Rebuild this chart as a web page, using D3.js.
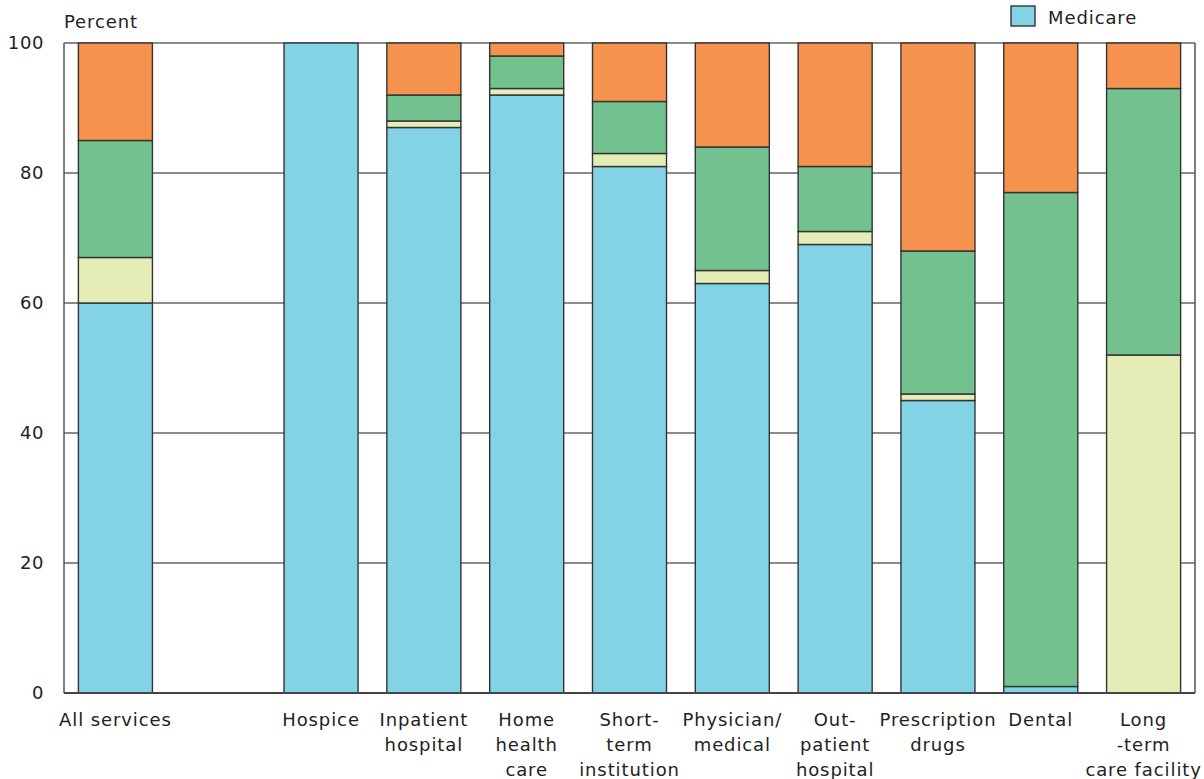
<!DOCTYPE html>
<html>
<head>
<meta charset="utf-8">
<script src="https://cdn.jsdelivr.net/npm/d3@7"></script>
<style>
  html, body { margin: 0; padding: 0; background: #fff; }
  svg text { font-family: "DejaVu Sans", sans-serif; fill: #222; }
</style>
</head>
<body>
<svg id="chart" width="1204" height="779"></svg>
<script>
// Share of spending by payer, per service type (percent)
const categories = ["All services", "", "Hospice", "Inpatient hospital", "Home health care",
  "Short-term institution", "Physician/ medical", "Out-patient hospital",
  "Prescription drugs", "Dental", "Long-term care facility"];
const categoryLines = [["All services"], [], ["Hospice"], ["Inpatient", "hospital"],
  ["Home", "health", "care"], ["Short-", "term", "institution"], ["Physician/", "medical"],
  ["Out-", "patient", "hospital"], ["Prescription", "drugs"], ["Dental"], ["Long", "-term", "care facility"]];
const medicare      = [60, 0, 100, 87, 92, 81, 63, 69, 45, 1, 0];
const medicaid      = [7, 0, 0, 1, 1, 2, 2, 2, 1, 0, 52];
const outOfPocket   = [18, 0, 0, 4, 5, 8, 19, 10, 22, 76, 41];
const privateIns    = [15, 0, 0, 8, 2, 9, 16, 19, 32, 23, 7];
const yTicks = [0, 20, 40, 60, 80, 100];

const seriesKeys = ["Medicare", "Medicaid", "Out of pocket", "Private insurance"];
const seriesColors = ["#83d3e6", "#e5edb7", "#72c18f", "#f5934e"];

const rows = categories.map((c, i) => ({
  category: c, idx: i,
  "Medicare": medicare[i], "Medicaid": medicaid[i],
  "Out of pocket": outOfPocket[i], "Private insurance": privateIns[i]
}));

const svg = d3.select("#chart");
const margin = { left: 64, right: 9, top: 43, bottom: 86 };
const W = 1204, H = 779;

const x = d3.scaleBand()
  .domain(d3.range(categories.length))
  .range([margin.left, W - margin.right])
  .paddingInner(0.28)
  .paddingOuter(0.14);
const y = d3.scaleLinear().domain([0, 100]).range([H - margin.bottom, margin.top]);

// gridlines
svg.append("g").selectAll("line").data(yTicks).join("line")
  .attr("x1", margin.left).attr("x2", W - margin.right)
  .attr("y1", d => y(d)).attr("y2", d => y(d))
  .attr("stroke", "#666").attr("stroke-width", 1.5);

// side frame
svg.append("line").attr("x1", margin.left).attr("x2", margin.left)
  .attr("y1", y(100)).attr("y2", y(0)).attr("stroke", "#555").attr("stroke-width", 1.5);
svg.append("line").attr("x1", W - margin.right).attr("x2", W - margin.right)
  .attr("y1", y(100)).attr("y2", y(0)).attr("stroke", "#555").attr("stroke-width", 1.5);

// stacked bars
const stacked = d3.stack().keys(seriesKeys)(rows);
svg.append("g").selectAll("g").data(stacked).join("g")
  .attr("fill", (d, i) => seriesColors[i])
  .selectAll("rect").data(d => d.filter(s => s[1] - s[0] > 0)).join("rect")
  .attr("x", d => x(d.data.idx))
  .attr("width", x.bandwidth())
  .attr("y", d => y(d[1]))
  .attr("height", d => y(d[0]) - y(d[1]))
  .attr("stroke", "#333").attr("stroke-width", 1.4);

// bottom frame over the bars
svg.append("line").attr("x1", margin.left).attr("x2", W - margin.right)
  .attr("y1", y(0)).attr("y2", y(0)).attr("stroke", "#444").attr("stroke-width", 1.8);

// y axis labels
const yAxis = d3.axisLeft(y).tickValues(yTicks).tickSize(0).tickPadding(20);
const gy = svg.append("g").attr("transform", `translate(${margin.left},0)`).call(yAxis);
gy.select(".domain").remove();
gy.selectAll("text").attr("font-size", 18).attr("letter-spacing", 0.6)
  .attr("font-family", "DejaVu Sans").attr("fill", "#222");

svg.append("text").attr("x", margin.left).attr("y", 28)
  .attr("font-size", 18).attr("letter-spacing", 0.9).text("Percent");

// category labels
const lab = svg.append("g").selectAll("text").data(rows).join("text")
  .attr("text-anchor", "middle")
  .attr("font-size", 18).attr("letter-spacing", 0.9)
  .attr("transform", d => `translate(${x(d.idx) + x.bandwidth() / 2},${y(0) + 32.5})`);
lab.selectAll("tspan").data(d => categoryLines[d.idx]).join("tspan")
  .attr("x", 0).attr("dy", (d, i) => i === 0 ? 0 : 25.3).text(d => d);

// legend
const lg = svg.append("g").attr("transform", "translate(1011,6)");
lg.append("rect").attr("width", 24).attr("height", 20)
  .attr("fill", seriesColors[0]).attr("stroke", "#333").attr("stroke-width", 1.4);
lg.append("text").attr("x", 37).attr("y", 18)
  .attr("font-size", 18).attr("letter-spacing", 0.9).text(seriesKeys[0]);
</script>
</body>
</html>
